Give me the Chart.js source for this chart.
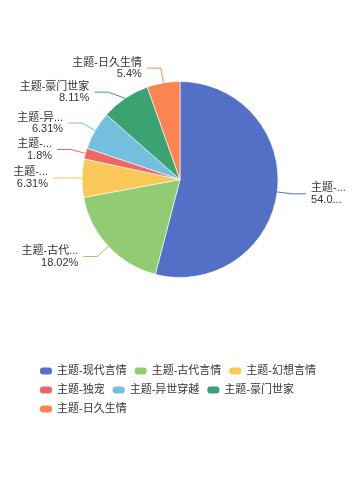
<!DOCTYPE html>
<html>
<head>
<meta charset="utf-8">
<script src="https://cdn.jsdelivr.net/npm/chart.js@4"></script>
<style>
    html, body { margin: 0; padding: 0; background: #fff; }
    #wrap { width: 360px; height: 480px; position: relative; }
</style>
</head>
<body>
<div id="wrap"><canvas id="pieChart"></canvas></div>
<script>
const categories = ['主题-现代言情', '主题-古代言情', '主题-幻想言情', '主题-独宠', '主题-异世穿越', '主题-豪门世家', '主题-日久生情'];
const counts = [60, 20, 7, 2, 7, 9, 6];
const colors = ['#5470c6', '#91cc75', '#fac858', '#ee6666', '#73c0de', '#3ba272', '#fc8452'];

const FONT = '11px "Liberation Sans", "Noto Sans CJK SC", sans-serif';
const TEXT_COLOR = '#333';

// Percentages rounded so they add up to 100 (largest remainder)
function percentList(values, precision) {
    const sum = values.reduce((a, b) => a + b, 0);
    const digits = Math.pow(10, precision);
    const votes = values.map(v => v / sum * 100 * digits);
    const seats = votes.map(Math.floor);
    const rem = votes.map((v, i) => v - seats[i]);
    let left = 100 * digits - seats.reduce((a, b) => a + b, 0);
    while (left > 0) {
        let max = -1, idx = 0;
        rem.forEach((r, i) => { if (r > max) { max = r; idx = i; } });
        seats[idx]++;
        rem[idx] = -1;
        left--;
    }
    return seats.map(s => s / digits);
}

function fitText(ctx, text, avail) {
    if (ctx.measureText(text).width <= avail) return text;
    let s = text;
    while (s.length > 0 && ctx.measureText(s + '...').width > avail) {
        s = s.slice(0, -1);
    }
    return s + '...';
}

// Outside labels with leader lines
const pieLabels = {
    id: 'pieLabels',
    afterDatasetsDraw(chart) {
        const ctx = chart.ctx;
        const arcs = chart.getDatasetMeta(0).data;
        const pct = percentList(counts, 2);
        const len1 = 15, len2 = 14, dist = 5, H = 24, margin = 12.5;
        let cx = 0, cy = 0, r = 0;

        const items = arcs.map((arc, i) => {
            const p = arc.getProps(['x', 'y', 'outerRadius', 'startAngle', 'endAngle'], true);
            cx = p.x; cy = p.y; r = p.outerRadius;
            const mid = (p.startAngle + p.endAngle) / 2;
            const dx = Math.cos(mid), dy = Math.sin(mid);
            const side = dx < 0 ? -1 : 1;
            return {
                i, side,
                x1: cx + r * dx, y1: cy + r * dy,
                x2: cx + (r + len1) * dx, y: cy + (r + len1) * dy
            };
        });

        [-1, 1].forEach(side => {
            const list = items.filter(it => it.side === side).sort((a, b) => a.y - b.y);
            let lastBottom = -Infinity;
            let shifted = false;
            list.forEach(it => {
                const top = it.y - H / 2;
                if (top < lastBottom) {
                    it.y += lastBottom - top;
                    shifted = true;
                }
                lastBottom = it.y + H / 2;
            });
            if (!shifted) return;
            const rA = r + len1;
            [list.filter(it => it.y <= cy), list.filter(it => it.y > cy)].forEach(semi => {
                if (!semi.length) return;
                let far = semi[0];
                semi.forEach(it => { if (Math.abs(it.y - cy) > Math.abs(far.y - cy)) far = it; });
                const fdx = Math.abs(far.x2 - cx);
                const fdy = Math.abs(far.y - cy);
                const rB = fdx < rA ? fdy / Math.sqrt(1 - fdx * fdx / (rA * rA)) : rA;
                semi.forEach(it => {
                    const d = Math.abs(it.y - cy);
                    it.x2 = cx + side * rA * Math.sqrt(Math.max(0, 1 - d * d / (rB * rB)));
                });
            });
        });

        ctx.save();
        ctx.font = FONT;
        ctx.textBaseline = 'middle';
        items.forEach(it => {
            const x3 = it.x2 + it.side * len2;
            const tx = x3 + it.side * dist;
            ctx.strokeStyle = colors[it.i];
            ctx.lineWidth = 1;
            ctx.beginPath();
            ctx.moveTo(it.x1, it.y1);
            ctx.lineTo(it.x2, it.y);
            ctx.lineTo(x3, it.y);
            ctx.stroke();

            const avail = it.side < 0 ? tx - margin : chart.width - margin - tx;
            ctx.fillStyle = TEXT_COLOR;
            ctx.textAlign = it.side < 0 ? 'right' : 'left';
            ctx.fillText(fitText(ctx, categories[it.i], avail), tx, it.y - 5.5);
            ctx.fillText(fitText(ctx, pct[it.i] + '%', avail), tx, it.y + 6);
        });
        ctx.restore();
    }
};

// Legend below the pie, rows from the left
const bottomLegend = {
    id: 'bottomLegend',
    afterDraw(chart) {
        const ctx = chart.ctx;
        const startX = 40, maxX = 345, rowH = 19;
        const iconW = 12, iconH = 7, iconGap = 5, itemGap = 8;
        let x = startX, y = 371;
        ctx.save();
        ctx.font = FONT;
        ctx.textBaseline = 'middle';
        ctx.textAlign = 'left';
        categories.forEach((name, i) => {
            const w = iconW + iconGap + ctx.measureText(name).width;
            if (x > startX && x + w > maxX) {
                x = startX;
                y += rowH;
            }
            ctx.fillStyle = colors[i];
            ctx.beginPath();
            ctx.roundRect(x, y - iconH / 2, iconW, iconH, 3);
            ctx.fill();
            ctx.fillStyle = TEXT_COLOR;
            ctx.fillText(name, x + iconW + iconGap, y);
            x += w + itemGap;
        });
        ctx.restore();
    }
};

const ctx = document.getElementById('pieChart').getContext('2d');
new Chart(ctx, {
    type: 'pie',
    data: {
        labels: categories,
        datasets: [{
            data: counts,
            backgroundColor: colors,
            borderColor: 'rgba(255, 255, 255, 0.6)',
            borderWidth: 1,
            hoverOffset: 0
        }]
    },
    options: {
        responsive: true,
        maintainAspectRatio: false,
        animation: false,
        layout: {
            padding: { top: 81, bottom: 202, left: 81.5, right: 81.5 }
        },
        plugins: {
            legend: { display: false },
            tooltip: { enabled: false }
        }
    },
    plugins: [pieLabels, bottomLegend]
});
</script>
</body>
</html>
